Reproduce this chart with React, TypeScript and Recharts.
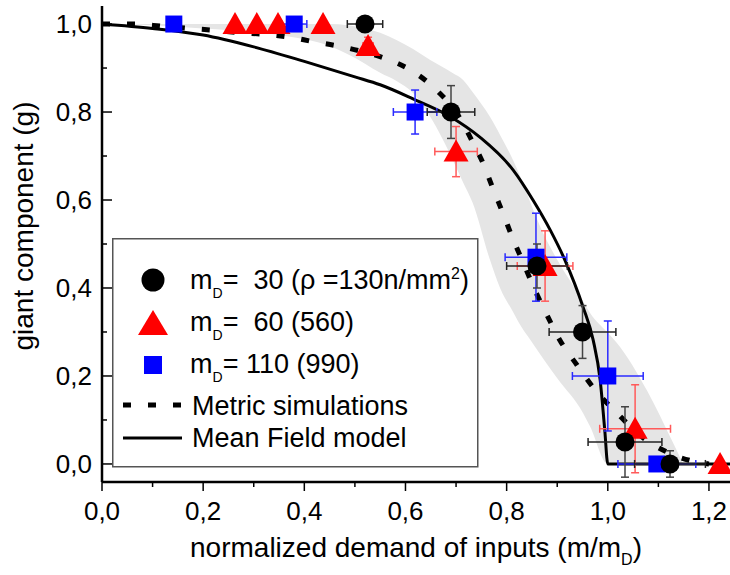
import React from "react";
import { Area, ComposedChart, ErrorBar, Label, Line, Scatter, XAxis, YAxis } from "recharts";

const FONT = '"Liberation Sans", Arial, Helvetica, sans-serif';

// axis ticks (every 0.1, labels on every second one)
const xTicks = [0, 0.1, 0.2, 0.3, 0.4, 0.5, 0.6, 0.7, 0.8, 0.9, 1.0, 1.1, 1.2];
const yTicks = [0, 0.1, 0.2, 0.3, 0.4, 0.5, 0.6, 0.7, 0.8, 0.9, 1.0];

// m_D = 30 (black circles)
const m30X = [0.52, 0.69, 0.86, 0.95, 1.034, 1.123];
const m30Y = [1.0, 0.8, 0.45, 0.3, 0.05, 0.0];
const m30Ex = [0.035, 0.047, 0.06, 0.066, 0.073, 0.07];
const m30Ey = [0, 0.06, 0.05, 0.06, 0.08, 0.03];

// m_D = 60 (red triangles)
const m60X = [0.263, 0.306, 0.348, 0.437, 0.526, 0.7, 0.876, 1.054, 1.222];
const m60Y = [1.0, 1.0, 1.0, 1.0, 0.95, 0.71, 0.45, 0.08, 0.0];
const m60Ex = [0, 0, 0, 0, 0.01, 0.042, 0.055, 0.07, 0];
const m60Ey = [0, 0, 0, 0, 0.02, 0.057, 0.08, 0.1, 0];

// m_D = 110 (blue squares)
const m110X = [0.142, 0.38, 0.619, 0.858, 1.0, 1.097];
const m110Y = [1.0, 1.0, 0.8, 0.47, 0.2, 0.0];
const m110Ex = [0, 0.025, 0.043, 0.061, 0.07, 0.077];
const m110Ey = [0, 0, 0.05, 0.1, 0.125, 0];

// metric simulations (dashed)
const metricX = [0, 0.06, 0.12, 0.174, 0.22, 0.273, 0.318, 0.372, 0.417, 0.467, 0.516, 0.569, 0.615, 0.664, 0.704, 0.73, 0.754, 0.774, 0.794, 0.813, 0.833, 0.856, 0.88, 0.905, 0.939, 0.975, 1.018, 1.068, 1.117, 1.166, 1.2];
const metricY = [1.0, 1.0, 0.995, 0.99, 0.986, 0.98, 0.977, 0.97, 0.96, 0.95, 0.937, 0.918, 0.892, 0.847, 0.793, 0.738, 0.682, 0.623, 0.566, 0.51, 0.457, 0.395, 0.338, 0.282, 0.225, 0.168, 0.116, 0.061, 0.027, 0.007, 0.0];

// mean field model (solid)
const meanX = [0, 0.1, 0.2, 0.3, 0.4, 0.5, 0.55, 0.615, 0.688, 0.747, 0.813, 0.852, 0.886, 0.915, 0.951, 0.971, 0.985, 0.994, 1.0, 1.2416];
const meanY = [1.0, 0.99, 0.975, 0.948, 0.915, 0.88, 0.862, 0.83, 0.79, 0.743, 0.668, 0.6, 0.532, 0.464, 0.357, 0.282, 0.19, 0.077, 0.0, 0.0];

// grey band around the simulations
const bandX = [0.05, 0.2, 0.35, 0.45, 0.52, 0.55, 0.583, 0.615, 0.649, 0.694, 0.714, 0.733, 0.767, 0.787, 0.813, 0.83, 0.845, 0.872, 0.9, 0.951, 0.965, 1.0, 1.018, 1.077, 1.129, 1.149];
const bandLow = [1.0, 0.99, 0.975, 0.95, 0.91, 0.889, 0.87, 0.843, 0.789, 0.69, 0.64, 0.593, 0.464, 0.4, 0.345, 0.31, 0.285, 0.24, 0.195, 0.116, 0.085, 0.0, 0.0, 0.0, 0.0, 0.0];
const bandHigh = [1.0, 1.0, 1.0, 1.0, 0.99, 0.98, 0.963, 0.943, 0.918, 0.888, 0.873, 0.845, 0.789, 0.748, 0.69, 0.645, 0.6, 0.525, 0.464, 0.37, 0.343, 0.298, 0.275, 0.168, 0.048, 0.0];

const xDomain = [0, 1.2416];
const yDomain = [-0.041, 1.041];

const points = (xs: number[], ys: number[], exs: number[], eys: number[]) =>
  xs.map((x, i) => ({ x, y: ys[i], ex: exs[i], ey: eys[i] }));
const curve = (xs: number[], ys: number[]) => xs.map((x, i) => ({ x, y: ys[i] }));

const m30 = points(m30X, m30Y, m30Ex, m30Ey);
const m60 = points(m60X, m60Y, m60Ex, m60Ey);
const m110 = points(m110X, m110Y, m110Ex, m110Ey);
const metric = curve(metricX, metricY);
const meanField = curve(meanX, meanY);
const band = bandX.map((x, i) => ({ x, lo: bandLow[i], hi: bandHigh[i] }));

const fmt = (v: number) => v.toFixed(1).replace(".", ",");
const isMajor = (v: number) => Math.round(v * 10) % 2 === 0;

function YTick(props: any) {
  const { x, y, payload } = props;
  const major = isMajor(payload.value);
  return (
    <g>
      <line x1={x} x2={x + (major ? 10 : 5)} y1={y} y2={y} stroke="#000" strokeWidth={1.5} />
      {major && (
        <text x={x - 10} y={y} dy="0.36em" textAnchor="end" fontSize={26} fontFamily={FONT} fill="#000">
          {fmt(payload.value)}
        </text>
      )}
    </g>
  );
}

function XTick(props: any) {
  const { x, y, payload } = props;
  const major = isMajor(payload.value);
  return (
    <g>
      <line x1={x} x2={x} y1={y} y2={y + (major ? 9 : 5)} stroke="#000" strokeWidth={1.5} />
      {major && (
        <text x={x} y={y + 38} textAnchor="middle" fontSize={26} fontFamily={FONT} fill="#000">
          {fmt(payload.value)}
        </text>
      )}
    </g>
  );
}

const circleShape = (p: any) => <circle cx={p.cx} cy={p.cy} r={9.5} fill="#000" />;
const triangleShape = (p: any) => (
  <polygon points={`${p.cx - 12.5},${p.cy + 10} ${p.cx + 12.5},${p.cy + 10} ${p.cx},${p.cy - 12}`} fill="#ff0000" />
);
const squareShape = (p: any) => <rect x={p.cx - 8.5} y={p.cy - 8.5} width={17} height={17} fill="#0000ff" />;

function LegendBox() {
  const t = { fontSize: 27, fontFamily: FONT, fill: "#000" } as const;
  return (
    <svg width={368} height={231} style={{ position: "absolute", left: 112, top: 238 }}>
      <rect x={0.75} y={0.75} width={365} height={228} fill="#fff" stroke="#555" strokeWidth={1.5} />
      <circle cx={41} cy={42} r={11.5} fill="#000" />
      <polygon points="26,97 56,97 41,72" fill="#ff0000" />
      <rect x={32} y={118} width={18} height={18} fill="#0000ff" />
      <line x1={11} x2={70} y1={167} y2={167} stroke="#000" strokeWidth={5} strokeDasharray="8 17" />
      <line x1={11} x2={70} y1={200} y2={200} stroke="#000" strokeWidth={3} />
      <text x={78} y={51} {...t}>
        m<tspan fontSize={14} dy={9}>D</tspan>
        <tspan dy={-9}>{"=\u00a0\u00a030 (\u03c1 =130n/mm"}</tspan>
        <tspan fontSize={16} dy={-10}>2</tspan>
        <tspan dy={10}>)</tspan>
      </text>
      <text x={78} y={93} {...t}>
        m<tspan fontSize={14} dy={9}>D</tspan>
        <tspan dy={-9}>{"=\u00a0\u00a060 (560)"}</tspan>
      </text>
      <text x={78} y={135} {...t}>
        m<tspan fontSize={14} dy={9}>D</tspan>
        <tspan dy={-9}>{"=\u00a0110 (990)"}</tspan>
      </text>
      <text x={80} y={177} {...t}>Metric simulations</text>
      <text x={80} y={209} {...t}>Mean Field model</text>
    </svg>
  );
}

export default function App() {
  return (
    <div style={{ position: "absolute", left: 0, top: 0, width: 730, height: 575, background: "#fff" }}>
      <ComposedChart width={730} height={575} margin={{ top: 6, right: 0, bottom: 0, left: 0 }}>
        <XAxis
          xAxisId="top"
          orientation="top"
          type="number"
          domain={xDomain}
          allowDataOverflow
          height={0}
          tick={false}
          tickLine={false}
          axisLine={{ stroke: "#000", strokeWidth: 2.5 }}
        />
        <XAxis
          dataKey="x"
          type="number"
          domain={xDomain}
          allowDataOverflow
          ticks={xTicks}
          interval={0}
          height={93}
          tickSize={0}
          tickMargin={0}
          tickLine={false}
          tick={<XTick />}
          axisLine={{ stroke: "#000", strokeWidth: 2.5 }}
        >
          <Label
            content={(p: any) => {
              const vb = p.viewBox;
              return (
                <text x={vb.x + vb.width / 2} y={vb.y + 75} textAnchor="middle" fontSize={28} fontFamily={FONT} fill="#000">
                  normalized demand of inputs (m/m<tspan fontSize={16} dy={8}>D</tspan>
                  <tspan dy={-8}>)</tspan>
                </text>
              );
            }}
          />
        </XAxis>
        <YAxis
          type="number"
          domain={yDomain}
          allowDataOverflow
          ticks={yTicks}
          interval={0}
          width={102}
          tickSize={0}
          tickMargin={0}
          tickLine={false}
          tick={<YTick />}
          axisLine={{ stroke: "#000", strokeWidth: 2.5 }}
        >
          <Label
            content={(p: any) => {
              const vb = p.viewBox;
              const cx = vb.x + 33;
              const cy = vb.y + 220;
              return (
                <text x={cx} y={cy} transform={`rotate(-90, ${cx}, ${cy})`} textAnchor="middle" fontSize={28} fontFamily={FONT} fill="#000">
                  giant component (g)
                </text>
              );
            }}
          />
        </YAxis>

        <Area
          data={band}
          dataKey={(d: any) => [d.lo, d.hi]}
          type="monotone"
          stroke="none"
          fill="#e5e5e5"
          fillOpacity={1}
          isAnimationActive={false}
        />
        <Line data={meanField} dataKey="y" type="monotone" stroke="#000" strokeWidth={3} dot={false} isAnimationActive={false} />
        <Line
          data={metric}
          dataKey="y"
          type="monotone"
          stroke="#000"
          strokeWidth={5}
          strokeDasharray="8 17"
          dot={false}
          isAnimationActive={false}
        />

        <Scatter data={m60} dataKey="y" fill="#ff0000" shape={triangleShape} isAnimationActive={false}>
          <ErrorBar dataKey="ex" direction="x" width={4} stroke="#ff5a5a" strokeWidth={1.5} isAnimationActive={false} />
          <ErrorBar dataKey="ey" direction="y" width={4} stroke="#ff5a5a" strokeWidth={1.5} isAnimationActive={false} />
        </Scatter>
        <Scatter data={m110} dataKey="y" fill="#0000ff" shape={squareShape} isAnimationActive={false}>
          <ErrorBar dataKey="ex" direction="x" width={4} stroke="#2a2aff" strokeWidth={1.5} isAnimationActive={false} />
          <ErrorBar dataKey="ey" direction="y" width={4} stroke="#2a2aff" strokeWidth={1.5} isAnimationActive={false} />
        </Scatter>
        <Scatter data={m30} dataKey="y" fill="#000" shape={circleShape} isAnimationActive={false}>
          <ErrorBar dataKey="ex" direction="x" width={4} stroke="#222" strokeWidth={1.5} isAnimationActive={false} />
          <ErrorBar dataKey="ey" direction="y" width={4} stroke="#444" strokeWidth={1.5} isAnimationActive={false} />
        </Scatter>
      </ComposedChart>
      <LegendBox />
    </div>
  );
}
